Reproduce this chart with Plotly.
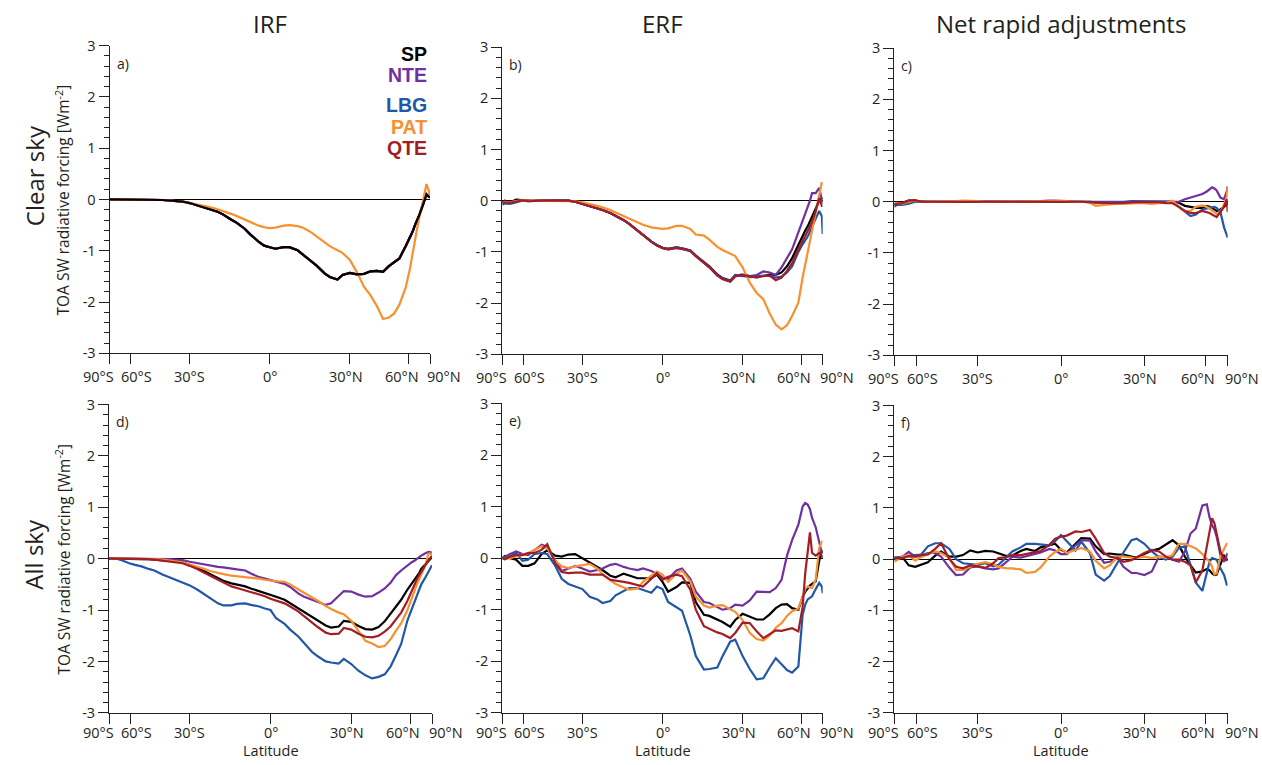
import numpy as np
import plotly.graph_objects as go

# ---------------- data ----------------
LAT = [-90, -80, -72, -66, -61, -57, -53, -49, -46, -42,
       -39, -36, -33, -30, -27, -24, -22, -19, -17, -14,
       -12, -9, -7, -4, -2, 0, 2, 5, 7, 10,
       12, 15, 17, 20, 22, 25, 27, 30, 33, 36,
       39, 42, 45, 48, 51, 54, 58, 61, 63, 65,
       67, 69, 73, 78, 84, 90]

TICK_LAT = [-90, -60, -30, 0, 30, 60, 90]
TICK_TEXT = ["90°S", "60°S", "30°S", "0°", "30°N", "60°N", "90°N"]
Y_TICKS = [-3, -2, -1, 0, 1, 2, 3]
Y_TEXT = ["-3", "-2", "-1", "0", "1", "2", "3"]

MODELS = ["SP", "NTE", "LBG", "PAT", "QTE"]
COLORS = {"SP": "#000000", "NTE": "#7030a0", "LBG": "#2157a6",
          "PAT": "#f7902f", "QTE": "#a31d25"}

# a) IRF clear sky
IRF_CLR_SP = [0, 0, 0, 0, 0, 0, 0, 0, 0, -0.01,
              -0.02, -0.03, -0.04, -0.07, -0.11, -0.15, -0.19, -0.24, -0.29, -0.39,
              -0.45, -0.57, -0.68, -0.82, -0.9, -0.93, -0.96, -0.93, -0.93, -0.99,
              -1.08, -1.2, -1.29, -1.44, -1.51, -1.56, -1.47, -1.43, -1.46, -1.45,
              -1.40, -1.39, -1.41, -1.30, -1.23, -1.15, -0.91, -0.74, -0.63, -0.5,
              -0.4, -0.3, -0.1, 0.1, 0.05, 0.04]
IRF_CLR_NTE = IRF_CLR_SP
IRF_CLR_LBG = IRF_CLR_SP
IRF_CLR_QTE = IRF_CLR_SP
IRF_CLR_PAT = [0, 0, 0, 0, 0, 0, 0, 0, 0, -0.01,
               -0.02, -0.03, -0.04, -0.07, -0.1, -0.12, -0.15, -0.19, -0.22, -0.28,
               -0.32, -0.39, -0.44, -0.51, -0.54, -0.56, -0.55, -0.51, -0.5, -0.52,
               -0.55, -0.64, -0.72, -0.83, -0.91, -0.99, -1.04, -1.18, -1.42, -1.70,
               -1.87, -2.08, -2.33, -2.30, -2.22, -2.05, -1.72, -1.35, -1.05, -0.75,
               -0.55, -0.35, 0.0, 0.3, 0.15, 0.07]

# b) ERF clear sky
ERF_CLR_SP = [-0.02, 0.0, -0.03, 0.02, 0.01, 0, 0, 0, 0, 0,
              0, 0, -0.02, -0.06, -0.1, -0.15, -0.18, -0.24, -0.29, -0.38,
              -0.45, -0.58, -0.67, -0.8, -0.87, -0.92, -0.94, -0.91, -0.93, -0.97,
              -1.07, -1.2, -1.28, -1.44, -1.51, -1.56, -1.46, -1.44, -1.47, -1.48,
              -1.47, -1.44, -1.45, -1.40, -1.28, -1.12, -0.85, -0.68, -0.58, -0.5,
              -0.4, -0.33, -0.15, 0.0, 0.05, 0.05]
ERF_CLR_NTE = [-0.05, -0.02, -0.03, 0.0, 0.01, 0, 0, 0, 0, 0,
               0, 0, -0.02, -0.06, -0.1, -0.15, -0.18, -0.24, -0.29, -0.38,
               -0.45, -0.58, -0.67, -0.8, -0.87, -0.92, -0.95, -0.92, -0.94, -0.98,
               -1.08, -1.21, -1.29, -1.45, -1.52, -1.57, -1.45, -1.46, -1.47, -1.45,
               -1.38, -1.4, -1.45, -1.30, -1.12, -0.95, -0.62, -0.4, -0.28, -0.15,
               0.0, 0.15, 0.15, 0.25, 0.0, -0.05]
ERF_CLR_LBG = [-0.08, -0.05, -0.06, -0.03, 0.0, -0.01, 0, 0, 0, 0,
               0, 0, -0.02, -0.06, -0.1, -0.15, -0.18, -0.24, -0.29, -0.38,
               -0.45, -0.58, -0.67, -0.8, -0.87, -0.92, -0.94, -0.91, -0.93, -0.97,
               -1.07, -1.21, -1.3, -1.46, -1.53, -1.57, -1.46, -1.47, -1.49, -1.48,
               -1.46, -1.47, -1.5, -1.48, -1.4, -1.28, -1.0, -0.85, -0.78, -0.7,
               -0.6, -0.5, -0.35, -0.2, -0.3, -0.65]
ERF_CLR_PAT = [-0.02, -0.02, -0.03, -0.01, 0.01, 0, 0, 0, 0, 0,
               0, 0, -0.01, -0.03, -0.06, -0.1, -0.13, -0.18, -0.23, -0.3,
               -0.34, -0.42, -0.47, -0.52, -0.54, -0.55, -0.54, -0.49, -0.49, -0.55,
               -0.66, -0.68, -0.76, -0.9, -0.96, -1.04, -1.08, -1.3, -1.6, -1.8,
               -1.92, -2.2, -2.42, -2.51, -2.43, -2.25, -1.99, -1.5, -1.25, -1.0,
               -0.78, -0.55, -0.25, 0.15, 0.36, 0.3]
ERF_CLR_QTE = [-0.03, -0.03, -0.04, -0.02, 0.01, -0.01, 0, 0, 0, 0,
               0, 0, -0.02, -0.06, -0.1, -0.15, -0.18, -0.24, -0.29, -0.38,
               -0.45, -0.58, -0.67, -0.8, -0.87, -0.92, -0.95, -0.92, -0.94, -0.98,
               -1.08, -1.22, -1.3, -1.46, -1.53, -1.58, -1.48, -1.45, -1.48, -1.5,
               -1.47, -1.46, -1.55, -1.5, -1.37, -1.22, -0.95, -0.78, -0.68, -0.6,
               -0.5, -0.42, -0.2, 0.05, -0.1, -0.1]

# c) Net rapid adjustments clear sky
ADJ_CLR_SP = [-0.05, -0.05, -0.02, 0.02, 0.01, 0, 0, 0, 0, 0,
              0, 0, 0.01, 0.01, 0, 0, 0, 0, 0, 0,
              0, 0, 0, 0, 0.01, 0.01, 0.01, 0, 0, 0,
              -0.01, -0.02, -0.02, -0.02, -0.01, 0, 0, 0, 0, 0,
              0, 0, -0.02, -0.08, -0.1, -0.12, -0.12, -0.08, -0.1, -0.12,
              -0.15, -0.18, -0.15, -0.1, -0.05, 0.0]
ADJ_CLR_NTE = [-0.05, -0.03, -0.02, 0.02, 0.02, 0, 0, 0, 0, 0,
               0, 0.01, 0.01, 0.01, 0, 0, 0, 0, 0, 0,
               0, 0, 0.01, 0.02, 0.02, 0.02, 0.01, 0, 0, 0,
               -0.01, -0.01, -0.01, 0, 0, 0.01, 0.01, 0, 0, 0,
               0, 0, 0, 0.05, 0.08, 0.12, 0.15, 0.2, 0.25, 0.28,
               0.26, 0.22, 0.08, 0.05, 0.2, 0.3]
ADJ_CLR_LBG = [-0.1, -0.06, -0.06, -0.04, 0.0, 0, 0, 0, 0, 0,
               0, 0, 0, 0, 0, 0, 0, 0, 0, 0,
               0, 0, 0, 0, 0.01, 0.01, 0, 0, 0, -0.01,
               -0.02, -0.02, -0.02, -0.01, -0.01, 0, 0, 0, 0, 0,
               0, 0, -0.1, -0.2, -0.28, -0.25, -0.15, -0.13, -0.12, -0.1,
               -0.1, -0.12, -0.2, -0.5, -0.65, -0.7]
ADJ_CLR_PAT = [-0.03, -0.02, -0.04, 0.0, 0.02, 0, 0, 0, 0, 0.01,
               0.01, 0.02, 0.02, 0.01, 0, 0, 0, 0, 0.01, 0.01,
               0.01, 0.01, 0.01, 0.01, 0.02, 0.02, 0.01, 0.0, 0.0, -0.02,
               -0.08, -0.06, -0.05, -0.04, -0.04, -0.03, -0.03, -0.03, -0.04, -0.03,
               -0.02, 0.02, -0.1, -0.19, -0.18, -0.1, -0.07, -0.1, -0.13, -0.17,
               -0.2, -0.24, -0.2, -0.05, 0.1, 0.3]
ADJ_CLR_QTE = [-0.06, -0.04, -0.03, 0.02, 0.03, 0, 0, 0, 0, 0,
               0, 0, 0, 0, 0, 0, 0, 0, 0, 0,
               0, 0, 0, 0, 0.01, 0.01, 0, 0, 0, -0.01,
               -0.02, -0.03, -0.03, -0.03, -0.02, -0.02, -0.01, -0.01, -0.01, -0.01,
               -0.03, -0.03, -0.1, -0.18, -0.22, -0.22, -0.18, -0.2, -0.22, -0.25,
               -0.28, -0.3, -0.2, -0.1, 0.05, -0.2]

# d) IRF all sky
IRF_ALL_SP = [0, 0, 0, 0, 0, 0, -0.01, -0.01, -0.02, -0.03,
              -0.04, -0.05, -0.07, -0.12, -0.18, -0.25, -0.3, -0.38, -0.43, -0.48,
              -0.5, -0.54, -0.58, -0.63, -0.66, -0.7, -0.74, -0.8, -0.87, -0.97,
              -1.04, -1.14, -1.21, -1.3, -1.34, -1.32, -1.21, -1.23, -1.31, -1.37,
              -1.38, -1.33, -1.22, -1.07, -0.92, -0.8, -0.6, -0.48, -0.42, -0.35,
              -0.28, -0.2, -0.12, -0.04, 0.03, 0.03]
IRF_ALL_NTE = [0, 0, 0, 0, 0, 0, 0, 0, 0, -0.01,
               -0.01, -0.02, -0.03, -0.06, -0.09, -0.12, -0.14, -0.16, -0.17, -0.2,
               -0.21, -0.23, -0.29, -0.36, -0.39, -0.43, -0.46, -0.49, -0.55, -0.68,
               -0.74, -0.8, -0.84, -0.9, -0.87, -0.72, -0.63, -0.64, -0.7, -0.74,
               -0.73, -0.66, -0.58, -0.47, -0.32, -0.23, -0.13, -0.07, -0.04, 0.0,
               0.03, 0.06, 0.1, 0.13, 0.12, 0.03]
IRF_ALL_LBG = [0, 0, 0, -0.04, -0.09, -0.12, -0.15, -0.2, -0.23, -0.31,
               -0.36, -0.42, -0.46, -0.52, -0.6, -0.7, -0.76, -0.87, -0.91, -0.91,
               -0.88, -0.87, -0.9, -0.93, -0.97, -1.0, -1.16, -1.27, -1.38, -1.52,
               -1.64, -1.82, -1.9, -2.0, -2.02, -2.04, -1.95, -2.05, -2.18, -2.27,
               -2.33, -2.3, -2.25, -2.1, -1.88, -1.66, -1.2, -0.98, -0.87, -0.75,
               -0.6, -0.5, -0.38, -0.25, -0.15, -0.13]
IRF_ALL_PAT = [0, 0, 0, 0, 0, 0, 0, -0.01, -0.01, -0.02,
               -0.03, -0.05, -0.07, -0.11, -0.15, -0.2, -0.24, -0.28, -0.3, -0.33,
               -0.34, -0.35, -0.37, -0.39, -0.41, -0.43, -0.44, -0.45, -0.5, -0.6,
               -0.66, -0.76, -0.82, -0.92, -0.98, -1.05, -1.08, -1.21, -1.42, -1.6,
               -1.65, -1.72, -1.7, -1.57, -1.4, -1.26, -1.0, -0.75, -0.63, -0.5,
               -0.4, -0.33, -0.15, 0.1, 0.1, 0.05]
IRF_ALL_QTE = [0, 0, 0, 0, 0, 0, -0.01, -0.01, -0.02, -0.04,
               -0.05, -0.07, -0.09, -0.14, -0.2, -0.28, -0.33, -0.41, -0.47, -0.54,
               -0.57, -0.62, -0.64, -0.69, -0.73, -0.78, -0.82, -0.87, -0.93, -1.03,
               -1.12, -1.25, -1.33, -1.44, -1.47, -1.46, -1.35, -1.38, -1.46, -1.52,
               -1.53, -1.5, -1.42, -1.32, -1.18, -1.05, -0.82, -0.62, -0.5, -0.4,
               -0.32, -0.25, -0.12, -0.03, 0.03, 0.03]

# e) ERF all sky
ERF_ALL_SP = [0, 0.04, 0.0, -0.03, -0.15, -0.15, -0.1, 0.08, 0.15, 0.05,
              0.03, 0.07, 0.08, 0.0, -0.09, -0.18, -0.23, -0.34, -0.37, -0.3,
              -0.33, -0.39, -0.39, -0.39, -0.32, -0.46, -0.65, -0.56, -0.47, -0.48,
              -0.85, -1.1, -1.12, -1.19, -1.24, -1.33, -1.2, -1.08, -1.14, -1.19,
              -1.19, -1.09, -0.97, -0.9, -0.89, -0.97, -1.0, -0.75, -0.65, -0.58,
              -0.53, -0.5, -0.45, -0.05, 0.15, 0.1]
ERF_ALL_NTE = [0, 0.03, 0.08, 0.13, 0.08, 0.06, 0.15, 0.26, 0.22, -0.05,
               -0.25, -0.2, -0.15, -0.2, -0.26, -0.23, -0.2, -0.13, -0.11, -0.17,
               -0.2, -0.23, -0.2, -0.25, -0.3, -0.38, -0.4, -0.24, -0.2, -0.4,
               -0.65, -0.85, -0.87, -0.95, -1.0, -0.97, -0.9, -0.92, -0.82, -0.65,
               -0.66, -0.66, -0.58, -0.42, 0.05, 0.35, 0.65, 1.0, 1.07, 1.04,
               0.95, 0.78, 0.6, 0.3, 0.1, 0.1]
ERF_ALL_LBG = [0, 0.02, 0.03, 0.1, -0.05, -0.03, 0.08, 0.1, 0.08, -0.15,
               -0.4, -0.5, -0.55, -0.6, -0.75, -0.8, -0.87, -0.83, -0.72, -0.63,
               -0.58, -0.58, -0.61, -0.67, -0.55, -0.6, -0.85, -0.95, -1.02, -1.5,
               -1.9, -2.16, -2.15, -2.12, -1.9, -1.62, -1.58, -1.9, -2.15, -2.35,
               -2.33, -2.12, -1.94, -2.06, -2.17, -2.22, -2.1, -1.1, -0.9, -0.8,
               -0.77, -0.74, -0.6, -0.48, -0.55, -0.68]
ERF_ALL_PAT = [0, -0.02, 0.0, 0.03, 0.06, 0.1, 0.16, 0.23, 0.19, -0.05,
               -0.16, -0.19, -0.16, -0.13, -0.11, -0.2, -0.31, -0.43, -0.5, -0.57,
               -0.61, -0.59, -0.46, -0.34, -0.26, -0.32, -0.46, -0.3, -0.24, -0.45,
               -0.75, -0.92, -0.96, -0.92, -0.91, -0.99, -1.04, -1.2, -1.45, -1.57,
               -1.6, -1.5, -1.35, -1.26, -1.12, -1.03, -0.98, -0.75, -0.6, -0.55,
               -0.57, -0.58, -0.42, 0.2, 0.32, 0.32]
ERF_ALL_QTE = [0, -0.02, 0.03, 0.06, 0.06, 0.1, 0.1, 0.16, 0.27, -0.1,
               -0.27, -0.29, -0.28, -0.28, -0.32, -0.32, -0.32, -0.42, -0.43, -0.46,
               -0.48, -0.53, -0.55, -0.4, -0.29, -0.42, -0.36, -0.32, -0.35, -0.61,
               -1.0, -1.32, -1.37, -1.44, -1.47, -1.55, -1.45, -1.25, -1.26, -1.42,
               -1.55, -1.48, -1.4, -1.41, -1.38, -1.36, -1.42, -0.95, -0.29, 0.15,
               0.5, 0.1, 0.05, 0.1, 0.05, 0.0]

# f) Net rapid adjustments all sky
ADJ_ALL_SP = [-0.01, 0.03, 0.04, -0.12, -0.15, -0.1, -0.06, 0.07, 0.15, 0.05,
              0.05, 0.08, 0.17, 0.13, 0.16, 0.15, 0.12, 0.06, 0.07, 0.16,
              0.2, 0.16, 0.23, 0.28, 0.3, 0.18, 0.13, 0.3, 0.41, 0.4,
              0.25, 0.1, 0.11, 0.09, 0.09, 0.05, 0.03, 0.1, 0.17, 0.2,
              0.28, 0.37, 0.27, 0.05, -0.12, -0.26, -0.24, -0.19, -0.22, -0.28,
              -0.31, -0.3, -0.1, 0.07, 0.0, 0.0]
ADJ_ALL_NTE = [0.0, 0.02, 0.05, 0.14, 0.05, 0.07, 0.12, 0.12, 0.05, -0.17,
               -0.31, -0.3, -0.16, -0.14, -0.18, -0.2, -0.18, -0.05, 0.05, 0.03,
               0.06, 0.1, 0.13, 0.2, 0.17, 0.1, 0.1, 0.27, 0.37, 0.36,
               0.15, -0.07, -0.05, 0.02, -0.15, -0.27, -0.27, -0.31, -0.24, 0.05,
               0.04, -0.01, -0.05, 0.15, 0.5, 0.6, 1.05, 1.07, 0.82, 0.66,
               0.58, 0.44, 0.08, -0.05, 0.1, 0.12]
ADJ_ALL_LBG = [0.05, 0.02, 0.05, 0.07, 0.08, 0.09, 0.25, 0.31, 0.31, 0.2,
               0.0, -0.08, -0.1, -0.11, -0.08, -0.14, -0.11, 0.05, 0.15, 0.23,
               0.3, 0.3, 0.29, 0.27, 0.35, 0.47, 0.35, 0.17, 0.34, 0.12,
               -0.3, -0.42, -0.33, -0.05, 0.13, 0.37, 0.4, 0.3, 0.15, 0.04,
               -0.01, 0.05, 0.22, 0.25, -0.12, -0.46, -0.62, -0.25, -0.05, 0.02,
               0.0, -0.01, -0.18, -0.31, -0.5, -0.5]
ADJ_ALL_PAT = [-0.05, -0.02, 0.05, 0.08, -0.03, 0.04, 0.1, 0.15, 0.12, 0.02,
               -0.21, -0.21, -0.15, -0.09, -0.06, -0.1, -0.15, -0.18, -0.18, -0.2,
               -0.27, -0.25, -0.16, 0.05, 0.14, 0.2, 0.12, 0.18, 0.22, 0.15,
               -0.03, -0.18, -0.12, 0.05, 0.05, 0.03, 0.02, 0.05, 0.02, 0.05,
               0.03, 0.08, 0.3, 0.3, 0.26, 0.21, 0.1, 0.0, -0.05, -0.15,
               -0.3, -0.28, 0.05, 0.2, 0.3, 0.3]
ADJ_ALL_QTE = [0.02, 0.02, 0.02, 0.06, 0.05, 0.08, 0.09, 0.2, 0.31, 0.0,
               -0.15, -0.18, -0.12, -0.14, -0.17, -0.08, 0.02, 0.04, 0.08, 0.08,
               0.1, 0.13, 0.16, 0.28, 0.4, 0.44, 0.46, 0.54, 0.53, 0.57,
               0.4, 0.12, 0.05, 0.02, -0.05, -0.02, 0.04, 0.12, 0.18, 0.15,
               0.05, -0.01, -0.01, -0.05, -0.12, -0.45, -0.22, 0.22, 0.5, 0.8,
               0.7, 0.5, 0.15, 0.0, -0.02, 0.0]

PANEL_LABELS = ["a)", "b)", "c)", "d)", "e)", "f)"]
COL_TITLES = ["IRF", "ERF", "Net rapid adjustments"]
ROW_TITLES = ["Clear sky", "All sky"]
Y_TITLE = "TOA SW radiative forcing [Wm<sup>-2</sup>]"

PANEL_DATA = [
    {"SP": IRF_CLR_SP, "NTE": IRF_CLR_NTE, "LBG": IRF_CLR_LBG, "PAT": IRF_CLR_PAT, "QTE": IRF_CLR_QTE},
    {"SP": ERF_CLR_SP, "NTE": ERF_CLR_NTE, "LBG": ERF_CLR_LBG, "PAT": ERF_CLR_PAT, "QTE": ERF_CLR_QTE},
    {"SP": ADJ_CLR_SP, "NTE": ADJ_CLR_NTE, "LBG": ADJ_CLR_LBG, "PAT": ADJ_CLR_PAT, "QTE": ADJ_CLR_QTE},
    {"SP": IRF_ALL_SP, "NTE": IRF_ALL_NTE, "LBG": IRF_ALL_LBG, "PAT": IRF_ALL_PAT, "QTE": IRF_ALL_QTE},
    {"SP": ERF_ALL_SP, "NTE": ERF_ALL_NTE, "LBG": ERF_ALL_LBG, "PAT": ERF_ALL_PAT, "QTE": ERF_ALL_QTE},
    {"SP": ADJ_ALL_SP, "NTE": ADJ_ALL_NTE, "LBG": ADJ_ALL_LBG, "PAT": ADJ_ALL_PAT, "QTE": ADJ_ALL_QTE},
]

# ---------------- layout geometry (pixels) ----------------
W, H = 1262, 765


def vy(y):
    """vertical page position used for a target pixel row"""
    return min(max((y - 11.0) / 0.974, 0.0), float(H))


BOXES = [  # x0, x1, ytop, ybottom (target pixels)
    (109.5, 430.0, 46.5, 354.0),
    (502.3, 822.7, 48.0, 355.0),
    (894.3, 1227.7, 49.0, 356.0),
    (109.0, 432.0, 405.0, 713.0),
    (502.3, 822.7, 404.0, 713.0),
    (894.3, 1227.7, 406.0, 713.0),
]
ROW_TITLE_Y = [177, 555]
LABEL_SHIFT = [-11, 6, 0, 1, -4, -7, 14]
TXT = "#231f20"
AX = "#231f20"
FONT = "Open Sans"

x_lat = np.sin(np.radians(LAT))
x_ticks = np.sin(np.radians(TICK_LAT))

fig = go.Figure()
layout = dict(width=W, height=H, margin=dict(l=0, r=0, t=0, b=0, pad=0),
              autosize=False,
              paper_bgcolor="white", plot_bgcolor="white",
              font=dict(family=FONT, color=TXT), showlegend=False)
annotations = []

for i, (box, pdata) in enumerate(zip(BOXES, PANEL_DATA)):
    n = i + 1
    sx = "" if n == 1 else str(n)
    x0, x1, yt, yb = box
    layout["xaxis" + sx] = dict(
        domain=[x0 / W, x1 / W], anchor="y" + sx, range=[-1, 1],
        tickvals=list(x_ticks), showticklabels=False, ticks="outside", ticklen=10,
        tickcolor=AX, tickwidth=1, showline=True, linecolor=AX, linewidth=1,
        zeroline=False, showgrid=False, fixedrange=True)
    layout["yaxis" + sx] = dict(
        domain=[1 - vy(yb) / H, 1 - vy(yt) / H], anchor="x" + sx, range=[-3, 3],
        tickvals=Y_TICKS, ticktext=Y_TEXT, ticks="outside", ticklen=10,
        tickcolor=AX, tickwidth=1, showline=True, linecolor=AX, linewidth=1,
        zeroline=True, zerolinecolor="#000000", zerolinewidth=1, showgrid=False,
        tickfont=dict(size=14.5, color=TXT, family=FONT), fixedrange=True,
        minor=dict(tick0=0, dtick=0.2, ticks="outside", ticklen=5,
                   tickcolor=AX, tickwidth=1, showgrid=False))

    order = ["NTE", "LBG", "QTE", "PAT", "SP"] if n == 1 else ["SP", "NTE", "LBG", "PAT", "QTE"]
    for m in order:
        fig.add_trace(go.Scatter(x=x_lat, y=pdata[m], mode="lines", name=m,
                                 line=dict(color=COLORS[m], width=2.2),
                                 xaxis="x" + sx, yaxis="y" + sx, hoverinfo="skip"))

    # x tick labels
    tick_drop = 13 if n <= 3 else 9
    for xt, txt, sh in zip(x_ticks, TICK_TEXT, LABEL_SHIFT):
        annotations.append(dict(x=xt, y=0, xref="x" + sx, yref="y" + sx + " domain",
                                text=txt, showarrow=False, yanchor="top", xanchor="center",
                                yshift=-tick_drop, xshift=sh, borderpad=0,
                                font=dict(size=14.5, color=TXT)))
    # panel label
    annotations.append(dict(x=0, y=1, xref="x" + sx + " domain", yref="y" + sx + " domain",
                            text=PANEL_LABELS[i], showarrow=False, xanchor="left",
                            yanchor="top", xshift=5, yshift=-6,
                            font=dict(size=14, color=TXT)))
    # bottom row: Latitude
    if n >= 4:
        annotations.append(dict(x=0, y=1 - 759.3 / H, xref="x" + sx, yref="paper",
                                text="Latitude", showarrow=False, xanchor="center",
                                yanchor="middle", borderpad=0,
                                font=dict(size=14.5, color=TXT)))
    # column titles
    if n <= 3:
        annotations.append(dict(x=0, y=1 - vy(24) / H, xref="x" + sx, yref="paper",
                                text=COL_TITLES[i], showarrow=False, xanchor="center",
                                yanchor="middle", font=dict(size=24, color=TXT)))
    # y titles and row titles in first column
    if n in (1, 4):
        annotations.append(dict(x=63 / W, y=0.5, xref="paper", yref="y" + sx + " domain",
                                text=Y_TITLE, textangle=-90, showarrow=False,
                                xanchor="center", yanchor="middle",
                                font=dict(size=15.5, color=TXT)))
        annotations.append(dict(x=34 / W, y=1 - vy(ROW_TITLE_Y[0 if n == 1 else 1]) / H,
                                xref="paper", yref="paper",
                                text=ROW_TITLES[0 if n == 1 else 1], textangle=-90,
                                showarrow=False, xanchor="center", yanchor="middle",
                                font=dict(size=24, color=TXT)))

# legend text (panel a)
LEG_Y = {"SP": 54.5, "NTE": 75.5, "LBG": 105.5, "PAT": 127.5, "QTE": 148.5}
for m in MODELS:
    annotations.append(dict(x=429 / W, y=1 - vy(LEG_Y[m]) / H, xref="paper", yref="paper",
                            text="<b>" + m + "</b>", showarrow=False, xanchor="right",
                            yanchor="middle",
                            font=dict(size=19.5, color=COLORS[m], family="Liberation Sans, Arial")))

layout["annotations"] = annotations
fig.update_layout(**layout)

PAGE_JS = ("document.documentElement.style.margin='0';"
           "document.body.style.margin='0';"
           "document.documentElement.style.overflow='hidden';"
           "document.body.style.overflow='hidden';")
fig.write_html("out.html", post_script=PAGE_JS)
